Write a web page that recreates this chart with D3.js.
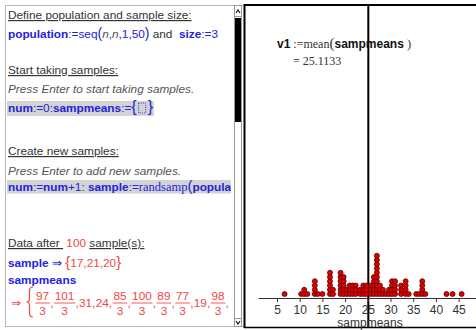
<!DOCTYPE html>
<html><head><meta charset="utf-8">
<script src="https://cdn.jsdelivr.net/npm/d3@7"></script>
<style>
html,body{margin:0;padding:0;background:#fff;overflow:hidden}
svg{display:block}
text{font-family:"Liberation Sans",Arial,sans-serif;font-size:11.8px;fill:#333;white-space:pre}
.u{text-decoration:underline}
.bb{font-weight:bold;fill:#2222e0}
.bl{fill:#2222e0}
.it{font-style:italic;fill:#555}
.r{fill:#f04848}
.serif{font-family:"Liberation Serif","Times New Roman",serif}
.bs{font-weight:bold;fill:#111}
</style>
</head><body>
<svg id="c" width="476" height="330"></svg>
<script>
// ---- data ----
const numSamples = 100;
const sampleDrawn = [17, 21, 20];
const sampmeansShown = ["97/3","101/3","31","24","85/3","100/3","89/3","77/3","19","98/3"];
const meanValue = 25.1133;
const meanLabel = "25.1133";
const axisTitle = "sampmeans";
const tickValues = [5, 10, 15, 20, 25, 30, 35, 40, 45];
const sampmeans = [
  6.67,
  10.33, 11, 11, 11.67,
  13.33, 13.33, 13.33, 13.33, 14, 15,
  16.67, 16.67, 16.67, 16.67, 16.67, 16.67, 17.33, 17.33,
  19, 19, 19, 19, 19, 19, 19.67, 19.67, 19.67, 19.67, 19.67,
  20.33, 20.33, 21, 21, 21, 21.67, 21.67, 21.67,
  22.33, 22.33, 22.33, 23.33, 23.33, 24, 24, 24, 24.67, 24.67, 24.67,
  25.67, 25.67, 25.67, 26.33, 26.33, 26.33, 26.33, 26.33,
  27, 27, 27, 27, 27, 27, 27, 27, 27, 27, 27.67, 27.67, 27.67,
  28.33, 28.33, 29, 29.67, 29.67,
  30.33, 30.33, 30.33, 30.33, 31, 31, 31, 31, 32.33, 32.33, 32.33,
  33.33, 33.33, 33.33, 33.33, 34, 35.67, 36.33, 37, 37, 37, 37, 37.67,
  42.33, 43.67, 45.67
];

const svg = d3.select("#c");
const W = 476, H = 330;

// ---- frames ----
svg.append("rect").attr("x",0).attr("y",0).attr("width",W).attr("height",H).attr("fill","#fff");
svg.append("line").attr("x1",5).attr("x2",244).attr("y1",5.5).attr("y2",5.5).attr("stroke","#b8b8b8");
svg.append("line").attr("x1",5.5).attr("x2",5.5).attr("y1",5).attr("y2",327).attr("stroke","#b8b8b8");
svg.append("line").attr("x1",5).attr("x2",244).attr("y1",326.5).attr("y2",326.5).attr("stroke","#b8b8b8");

const clip = svg.append("clipPath").attr("id","lc");
clip.append("rect").attr("x",6).attr("y",6).attr("width",225).attr("height",320);
const L = svg.append("g").attr("clip-path","url(#lc)");

function line(g, x, y, parts){
  const t = g.append("text").attr("x",x).attr("y",y);
  parts.forEach(p => {
    const s = t.append("tspan").text(p[0]);
    if (p[1]) s.attr("class", p[1]);
    if (p[2]) s.style("font-size", p[2]);
  });
  return t;
}

// highlights
L.append("rect").attr("x",7).attr("y",101).attr("width",147).attr("height",15).attr("fill","#d3d3d3");
L.append("rect").attr("x",7).attr("y",180).attr("width",224).attr("height",13.5).attr("fill","#d3d3d3");

line(L, 8, 19, [["Define population and sample size:","u"]]);
line(L, 8, 38, [["population","bb"],[":=seq","bl"],["(","bl","14px"],["n","bl it"],[",","bl"],["n","bl it"],[",1,50","bl"],[")","bl","14px"],[" and  ",""],["size","bb"],[":=3","bl"]]);
line(L, 8, 74, [["Start taking samples:","u"]]);
line(L, 8, 93, [["Press Enter to start taking samples.","it"]]);
const t0 = line(L, 8, 112, [["num","bb"],[":=0:","bl"],["sampmeans","bb"],[":=","bl"],["{","bl","16px"]]);
{
  const x0 = 8 + t0.node().getComputedTextLength() + 2;
  L.append("rect").attr("x",x0).attr("y",103).attr("width",7).attr("height",10)
    .attr("fill","none").attr("stroke","#2222e0").attr("stroke-dasharray","1,1.2").attr("stroke-width",0.9);
  line(L, x0 + 9, 112, [["}","bl","16px"]]);
}
line(L, 8, 155, [["Create new samples:","u"]]);
line(L, 8, 175, [["Press Enter to add new samples.","it"]]);
line(L, 8, 191, [["num","bb"],[":=","bl"],["num","bb"],["+1: ","bl"],["sample","bb"],[":=","bl"],["randsamp","bl serif","12.5px"],["(","bl","15px"],["population","bb"]]);

line(L, 8, 247, [["Data after ","u"],[" "+numSamples+" ","r"],["sample(s):","u"]]);
line(L, 8, 267, [["sample","bb"],[" \u21D2 ","bl"],["{","r","15px"],[sampleDrawn.join(","),"r"],["}","r","15px"]]);
line(L, 8, 284, [["sampmeans","bb"]]);

// result line
L.append("text").attr("class","r").attr("x",11).attr("y",307).text("\u21D2");
// large opening brace (drawn delimiter)
L.append("path")
  .attr("d","M33,287 Q29.5,287 29.5,291 L29.5,298 Q29.5,302 26.5,302 Q29.5,302 29.5,306 L29.5,313 Q29.5,317 33,317")
  .attr("fill","none").attr("stroke","#f04848").attr("stroke-width",1.2);
{
  let cx = 35;
  sampmeansShown.forEach(s => {
    const [num, den] = s.split("/");
    if (den){
      const tn = L.append("text").attr("class","r").attr("y",300).attr("text-anchor","middle").text(num);
      const td = L.append("text").attr("class","r").attr("y",315).attr("text-anchor","middle").text(den);
      const w = Math.max(tn.node().getComputedTextLength(), td.node().getComputedTextLength()) + 2;
      tn.attr("x", cx + w/2); td.attr("x", cx + w/2);
      L.append("line").attr("x1",cx+0.3).attr("x2",cx+w-0.3).attr("y1",303).attr("y2",303)
        .attr("stroke","#f04848").attr("stroke-width",0.9);
      cx += w;
    } else {
      const t = L.append("text").attr("class","r").attr("x",cx).attr("y",307).text(num);
      cx += t.node().getComputedTextLength();
    }
    const c = L.append("text").attr("class","r").attr("x",cx).attr("y",307).text(",");
    cx += c.node().getComputedTextLength() + 0.3;
  });
}

// scrollbar
svg.append("rect").attr("x",234.5).attr("y",5.5).attr("width",7).attr("height",321).attr("fill","#fff").attr("stroke","#999");
svg.append("rect").attr("x",235).attr("y",18).attr("width",6).attr("height",104).attr("fill","#000");
svg.append("path").attr("d","M236,13 L238,10 L240,13").attr("fill","none").attr("stroke","#222").attr("stroke-width",1.3);
svg.append("path").attr("d","M236,321 L238,324 L240,321").attr("fill","none").attr("stroke","#222").attr("stroke-width",1.3);
svg.append("line").attr("x1",234.5).attr("x2",241.5).attr("y1",16.5).attr("y2",16.5).attr("stroke","#999");
svg.append("line").attr("x1",234.5).attr("x2",241.5).attr("y1",318.5).attr("y2",318.5).attr("stroke","#999");

// ---- right panel ----
const R = svg.append("g");
R.append("line").attr("x1",244).attr("x2",W).attr("y1",5).attr("y2",5).attr("stroke","#000").attr("stroke-width",2);
R.append("line").attr("x1",244.5).attr("x2",244.5).attr("y1",4).attr("y2",328).attr("stroke","#000").attr("stroke-width",2);
R.append("line").attr("x1",244).attr("x2",W).attr("y1",327.5).attr("y2",327.5).attr("stroke","#000").attr("stroke-width",1.5);

const x = d3.scaleLinear().domain([0.815, 48.83]).range([258, 476]);

// mean line
R.append("line").attr("x1",x(meanValue)).attr("x2",x(meanValue)).attr("y1",6).attr("y2",327)
  .attr("stroke","#000").attr("stroke-width",2);

// formula text
line(R, 277, 48, [["v1","bs","12px"],[" :=mean","serif","12px"],["(","serif","15px"],["sampmeans","bs","12px"],[" )","serif","12.5px"]]);
line(R, 293, 65, [["= "+meanLabel,"serif","12px"]]);

// axis
const axis = d3.axisBottom(x).tickValues(tickValues).tickSize(4).tickSizeOuter(0).tickPadding(3);
const ag = R.append("g").attr("transform","translate(0,298)").call(axis);
ag.select(".domain").attr("stroke","#333").attr("stroke-width",1);
ag.selectAll(".tick line").attr("stroke","#333");
ag.selectAll(".tick text").style("font-size","12px").style("font-family","Liberation Sans, Arial, sans-serif").attr("fill","#444");
R.append("text").attr("x",370).attr("y",326.5).attr("text-anchor","middle").style("font-size","12px").attr("fill","#444").text(axisTitle);

// dots
const counts = new Map();
const dots = sampmeans.map(v => {
  const k = v.toFixed(2);
  const n = counts.get(k) || 0;
  counts.set(k, n + 1);
  return {v, n};
});
const step = 4.25;
R.append("g").selectAll("circle").data(dots).join("circle")
  .attr("cx", d => x(d.v)).attr("cy", d => 294 - d.n * step).attr("r", 2.5)
  .attr("fill","#e10000").attr("stroke","#5a0000").attr("stroke-width",0.8);
</script>
</body></html>
